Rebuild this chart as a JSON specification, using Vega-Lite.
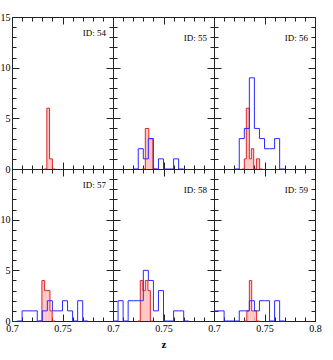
{
"$schema":"https://vega.github.io/schema/vega-lite/v6.json",
"padding":{"left":0,"top":12,"right":5,"bottom":5},
"bounds":"flush",
"spacing":0,
"columns":3,
"data":{"values":[
{"id":54,"s":"r","x0":0.7320,"x1":0.7345,"n":0},{"id":54,"s":"r","x0":0.7345,"x1":0.7372,"n":6},{"id":54,"s":"r","x0":0.7372,"x1":0.7400,"n":1},{"id":54,"s":"r","x0":0.7400,"x1":0.7428,"n":0},
{"id":55,"s":"r","x0":0.7290,"x1":0.7320,"n":0},{"id":55,"s":"r","x0":0.7320,"x1":0.7355,"n":4},{"id":55,"s":"r","x0":0.7355,"x1":0.7395,"n":3},{"id":55,"s":"r","x0":0.7395,"x1":0.7430,"n":0},
{"id":55,"s":"b","x0":0.720,"x1":0.725,"n":0},{"id":55,"s":"b","x0":0.725,"x1":0.730,"n":2},{"id":55,"s":"b","x0":0.730,"x1":0.735,"n":1},{"id":55,"s":"b","x0":0.735,"x1":0.740,"n":3},{"id":55,"s":"b","x0":0.740,"x1":0.745,"n":0},{"id":55,"s":"b","x0":0.745,"x1":0.750,"n":1},{"id":55,"s":"b","x0":0.750,"x1":0.755,"n":0},{"id":55,"s":"b","x0":0.755,"x1":0.760,"n":0},{"id":55,"s":"b","x0":0.760,"x1":0.765,"n":1},{"id":55,"s":"b","x0":0.765,"x1":0.770,"n":0},
{"id":56,"s":"r","x0":0.728,"x1":0.730,"n":0},{"id":56,"s":"r","x0":0.730,"x1":0.732,"n":1},{"id":56,"s":"r","x0":0.732,"x1":0.735,"n":6},{"id":56,"s":"r","x0":0.735,"x1":0.737,"n":1},{"id":56,"s":"r","x0":0.737,"x1":0.7393,"n":2},{"id":56,"s":"r","x0":0.7393,"x1":0.742,"n":0},{"id":56,"s":"r","x0":0.742,"x1":0.7452,"n":1},{"id":56,"s":"r","x0":0.7452,"x1":0.748,"n":0},
{"id":56,"s":"b","x0":0.720,"x1":0.725,"n":0},{"id":56,"s":"b","x0":0.725,"x1":0.730,"n":3},{"id":56,"s":"b","x0":0.730,"x1":0.735,"n":4},{"id":56,"s":"b","x0":0.735,"x1":0.740,"n":9},{"id":56,"s":"b","x0":0.740,"x1":0.745,"n":4},{"id":56,"s":"b","x0":0.745,"x1":0.750,"n":3},{"id":56,"s":"b","x0":0.750,"x1":0.755,"n":2},{"id":56,"s":"b","x0":0.755,"x1":0.760,"n":2},{"id":56,"s":"b","x0":0.760,"x1":0.765,"n":3},{"id":56,"s":"b","x0":0.765,"x1":0.770,"n":0},
{"id":57,"s":"r","x0":0.727,"x1":0.7296,"n":0},{"id":57,"s":"r","x0":0.7296,"x1":0.7323,"n":4},{"id":57,"s":"r","x0":0.7323,"x1":0.735,"n":3},{"id":57,"s":"r","x0":0.735,"x1":0.7376,"n":3},{"id":57,"s":"r","x0":0.7376,"x1":0.7398,"n":1},{"id":57,"s":"r","x0":0.7398,"x1":0.7425,"n":0},
{"id":57,"s":"b","x0":0.705,"x1":0.710,"n":0},{"id":57,"s":"b","x0":0.710,"x1":0.715,"n":1},{"id":57,"s":"b","x0":0.715,"x1":0.720,"n":1},{"id":57,"s":"b","x0":0.720,"x1":0.725,"n":1},{"id":57,"s":"b","x0":0.725,"x1":0.730,"n":0},{"id":57,"s":"b","x0":0.730,"x1":0.735,"n":1},{"id":57,"s":"b","x0":0.735,"x1":0.740,"n":2},{"id":57,"s":"b","x0":0.740,"x1":0.745,"n":1},{"id":57,"s":"b","x0":0.745,"x1":0.750,"n":1},{"id":57,"s":"b","x0":0.750,"x1":0.755,"n":2},{"id":57,"s":"b","x0":0.755,"x1":0.760,"n":1},{"id":57,"s":"b","x0":0.760,"x1":0.765,"n":0},{"id":57,"s":"b","x0":0.765,"x1":0.770,"n":2},{"id":57,"s":"b","x0":0.770,"x1":0.775,"n":0},
{"id":58,"s":"r","x0":0.7245,"x1":0.727,"n":0},{"id":58,"s":"r","x0":0.727,"x1":0.7297,"n":4},{"id":58,"s":"r","x0":0.7297,"x1":0.732,"n":3},{"id":58,"s":"r","x0":0.732,"x1":0.7346,"n":4},{"id":58,"s":"r","x0":0.7346,"x1":0.737,"n":3},{"id":58,"s":"r","x0":0.737,"x1":0.7395,"n":0},
{"id":58,"s":"b","x0":0.700,"x1":0.705,"n":0},{"id":58,"s":"b","x0":0.705,"x1":0.710,"n":2},{"id":58,"s":"b","x0":0.710,"x1":0.715,"n":0},{"id":58,"s":"b","x0":0.715,"x1":0.720,"n":2},{"id":58,"s":"b","x0":0.720,"x1":0.725,"n":2},{"id":58,"s":"b","x0":0.725,"x1":0.730,"n":2},{"id":58,"s":"b","x0":0.730,"x1":0.735,"n":5},{"id":58,"s":"b","x0":0.735,"x1":0.740,"n":4},{"id":58,"s":"b","x0":0.740,"x1":0.745,"n":1},{"id":58,"s":"b","x0":0.745,"x1":0.750,"n":3},{"id":58,"s":"b","x0":0.750,"x1":0.755,"n":0},{"id":58,"s":"b","x0":0.755,"x1":0.760,"n":0},{"id":58,"s":"b","x0":0.760,"x1":0.765,"n":1},{"id":58,"s":"b","x0":0.765,"x1":0.770,"n":1},{"id":58,"s":"b","x0":0.770,"x1":0.775,"n":0},
{"id":59,"s":"r","x0":0.730,"x1":0.7325,"n":0},{"id":59,"s":"r","x0":0.7325,"x1":0.735,"n":1},{"id":59,"s":"r","x0":0.735,"x1":0.7373,"n":4},{"id":59,"s":"r","x0":0.7373,"x1":0.7398,"n":1},{"id":59,"s":"r","x0":0.7398,"x1":0.7422,"n":1},{"id":59,"s":"r","x0":0.7422,"x1":0.745,"n":0},
{"id":59,"s":"b","x0":0.700,"x1":0.705,"n":1},{"id":59,"s":"b","x0":0.705,"x1":0.710,"n":1},{"id":59,"s":"b","x0":0.710,"x1":0.715,"n":0},{"id":59,"s":"b","x0":0.715,"x1":0.720,"n":0},{"id":59,"s":"b","x0":0.720,"x1":0.725,"n":0},{"id":59,"s":"b","x0":0.725,"x1":0.730,"n":1},{"id":59,"s":"b","x0":0.730,"x1":0.735,"n":1},{"id":59,"s":"b","x0":0.735,"x1":0.740,"n":2},{"id":59,"s":"b","x0":0.740,"x1":0.745,"n":1},{"id":59,"s":"b","x0":0.745,"x1":0.750,"n":2},{"id":59,"s":"b","x0":0.750,"x1":0.755,"n":2},{"id":59,"s":"b","x0":0.755,"x1":0.760,"n":0},{"id":59,"s":"b","x0":0.760,"x1":0.765,"n":2},{"id":59,"s":"b","x0":0.765,"x1":0.770,"n":0}
]},
"concat":[
{"width":101,"height":152,
 "title":{"text":"ID: 54","orient":"top","anchor":"end","frame":"group","offset":-26,"dx":-7},
 "transform":[{"filter":"datum.id==54"}],
 "layer":[
  {"transform":[{"filter":"datum.s=='r'"}],"mark":{"type":"rect","color":"#ffc4c4"},
   "encoding":{"x":{"field":"x0","type":"quantitative","scale":{"domain":[0.7,0.8],"nice":false,"zero":false},"axis":{"orient":"bottom","values":[0.7,0.71,0.72,0.73,0.74,0.75,0.76,0.77,0.78,0.79,0.8],"labels":false,"title":null,"tickSize":{"condition":{"test":"abs(datum.value*20-round(datum.value*20))<0.001","value":-7},"value":-4}}},
    "x2":{"field":"x1"},
    "y":{"field":"n","type":"quantitative","scale":{"domain":[0,15],"nice":false},"axis":{"orient":"left","values":[0,1,2,3,4,5,6,7,8,9,10,11,12,13,14,15],"title":null,"labelExpr":"datum.value%5==0 ? format(datum.value,'d') : ''","tickSize":{"condition":{"test":"datum.value%5==0","value":-7},"value":-4}}},
    "y2":{"datum":0}}},
  {"transform":[{"filter":"datum.s=='r'"},{"fold":["x0","x1"]}],"mark":{"type":"line","color":"#e02828","strokeWidth":1},
   "encoding":{"x":{"field":"value","type":"quantitative","scale":{"domain":[0.7,0.8],"nice":false,"zero":false},"axis":{"orient":"top","values":[0.7,0.71,0.72,0.73,0.74,0.75,0.76,0.77,0.78,0.79,0.8],"labels":false,"title":null,"tickSize":{"condition":{"test":"abs(datum.value*20-round(datum.value*20))<0.001","value":-7},"value":-4}}},
    "y":{"field":"n","type":"quantitative","scale":{"domain":[0,15],"nice":false},"axis":{"orient":"right","values":[0,1,2,3,4,5,6,7,8,9,10,11,12,13,14,15],"labels":false,"title":null,"tickSize":{"condition":{"test":"datum.value%5==0","value":-7},"value":-4}}},
    "order":[{"field":"value","type":"quantitative"},{"field":"key","type":"nominal","sort":"descending"}]}},
  {"transform":[{"filter":"datum.s=='b'"},{"fold":["x0","x1"]}],"mark":{"type":"line","color":"#2a2aff","strokeWidth":1},
   "encoding":{"x":{"field":"value","type":"quantitative","scale":{"domain":[0.7,0.8],"nice":false,"zero":false},"axis":null},
    "y":{"field":"n","type":"quantitative","scale":{"domain":[0,15],"nice":false},"axis":null},
    "order":[{"field":"value","type":"quantitative"},{"field":"key","type":"nominal","sort":"descending"}]}}
 ],
 "resolve":{"axis":{"x":"independent","y":"independent"}}},
{"width":101,"height":152,
 "title":{"text":"ID: 55","orient":"top","anchor":"end","frame":"group","offset":-26,"dx":-7},
 "transform":[{"filter":"datum.id==55"}],
 "layer":[
  {"transform":[{"filter":"datum.s=='r'"}],"mark":{"type":"rect","color":"#ffc4c4"},
   "encoding":{"x":{"field":"x0","type":"quantitative","scale":{"domain":[0.7,0.8],"nice":false,"zero":false},"axis":{"orient":"bottom","values":[0.7,0.71,0.72,0.73,0.74,0.75,0.76,0.77,0.78,0.79,0.8],"labels":false,"title":null,"tickSize":{"condition":{"test":"abs(datum.value*20-round(datum.value*20))<0.001","value":-7},"value":-4}}},
    "x2":{"field":"x1"},
    "y":{"field":"n","type":"quantitative","scale":{"domain":[0,15],"nice":false},"axis":{"orient":"left","values":[0,1,2,3,4,5,6,7,8,9,10,11,12,13,14,15],"labels":false,"title":null,"tickSize":{"condition":{"test":"datum.value%5==0","value":-7},"value":-4}}},
    "y2":{"datum":0}}},
  {"transform":[{"filter":"datum.s=='r'"},{"fold":["x0","x1"]}],"mark":{"type":"line","color":"#e02828","strokeWidth":1},
   "encoding":{"x":{"field":"value","type":"quantitative","scale":{"domain":[0.7,0.8],"nice":false,"zero":false},"axis":{"orient":"top","values":[0.7,0.71,0.72,0.73,0.74,0.75,0.76,0.77,0.78,0.79,0.8],"labels":false,"title":null,"tickSize":{"condition":{"test":"abs(datum.value*20-round(datum.value*20))<0.001","value":-7},"value":-4}}},
    "y":{"field":"n","type":"quantitative","scale":{"domain":[0,15],"nice":false},"axis":{"orient":"right","values":[0,1,2,3,4,5,6,7,8,9,10,11,12,13,14,15],"labels":false,"title":null,"tickSize":{"condition":{"test":"datum.value%5==0","value":-7},"value":-4}}},
    "order":[{"field":"value","type":"quantitative"},{"field":"key","type":"nominal","sort":"descending"}]}},
  {"transform":[{"filter":"datum.s=='b'"},{"fold":["x0","x1"]}],"mark":{"type":"line","color":"#2a2aff","strokeWidth":1},
   "encoding":{"x":{"field":"value","type":"quantitative","scale":{"domain":[0.7,0.8],"nice":false,"zero":false},"axis":null},
    "y":{"field":"n","type":"quantitative","scale":{"domain":[0,15],"nice":false},"axis":null},
    "order":[{"field":"value","type":"quantitative"},{"field":"key","type":"nominal","sort":"descending"}]}}
 ],
 "resolve":{"axis":{"x":"independent","y":"independent"}}},
{"width":101,"height":152,
 "title":{"text":"ID: 56","orient":"top","anchor":"end","frame":"group","offset":-26,"dx":-7},
 "transform":[{"filter":"datum.id==56"}],
 "layer":[
  {"transform":[{"filter":"datum.s=='r'"}],"mark":{"type":"rect","color":"#ffc4c4"},
   "encoding":{"x":{"field":"x0","type":"quantitative","scale":{"domain":[0.7,0.8],"nice":false,"zero":false},"axis":{"orient":"bottom","values":[0.7,0.71,0.72,0.73,0.74,0.75,0.76,0.77,0.78,0.79,0.8],"labels":false,"title":null,"tickSize":{"condition":{"test":"abs(datum.value*20-round(datum.value*20))<0.001","value":-7},"value":-4}}},
    "x2":{"field":"x1"},
    "y":{"field":"n","type":"quantitative","scale":{"domain":[0,15],"nice":false},"axis":{"orient":"left","values":[0,1,2,3,4,5,6,7,8,9,10,11,12,13,14,15],"labels":false,"title":null,"tickSize":{"condition":{"test":"datum.value%5==0","value":-7},"value":-4}}},
    "y2":{"datum":0}}},
  {"transform":[{"filter":"datum.s=='r'"},{"fold":["x0","x1"]}],"mark":{"type":"line","color":"#e02828","strokeWidth":1},
   "encoding":{"x":{"field":"value","type":"quantitative","scale":{"domain":[0.7,0.8],"nice":false,"zero":false},"axis":{"orient":"top","values":[0.7,0.71,0.72,0.73,0.74,0.75,0.76,0.77,0.78,0.79,0.8],"labels":false,"title":null,"tickSize":{"condition":{"test":"abs(datum.value*20-round(datum.value*20))<0.001","value":-7},"value":-4}}},
    "y":{"field":"n","type":"quantitative","scale":{"domain":[0,15],"nice":false},"axis":{"orient":"right","values":[0,1,2,3,4,5,6,7,8,9,10,11,12,13,14,15],"labels":false,"title":null,"tickSize":{"condition":{"test":"datum.value%5==0","value":-7},"value":-4}}},
    "order":[{"field":"value","type":"quantitative"},{"field":"key","type":"nominal","sort":"descending"}]}},
  {"transform":[{"filter":"datum.s=='b'"},{"fold":["x0","x1"]}],"mark":{"type":"line","color":"#2a2aff","strokeWidth":1},
   "encoding":{"x":{"field":"value","type":"quantitative","scale":{"domain":[0.7,0.8],"nice":false,"zero":false},"axis":null},
    "y":{"field":"n","type":"quantitative","scale":{"domain":[0,15],"nice":false},"axis":null},
    "order":[{"field":"value","type":"quantitative"},{"field":"key","type":"nominal","sort":"descending"}]}}
 ],
 "resolve":{"axis":{"x":"independent","y":"independent"}}},
{"width":101,"height":152,
 "title":{"text":"ID: 57","orient":"top","anchor":"end","frame":"group","offset":-26,"dx":-7},
 "transform":[{"filter":"datum.id==57"}],
 "layer":[
  {"transform":[{"filter":"datum.s=='r'"}],"mark":{"type":"rect","color":"#ffc4c4"},
   "encoding":{"x":{"field":"x0","type":"quantitative","scale":{"domain":[0.7,0.8],"nice":false,"zero":false},"axis":{"orient":"bottom","values":[0.7,0.71,0.72,0.73,0.74,0.75,0.76,0.77,0.78,0.79,0.8],"title":null,"labelExpr":"abs(datum.value*20-round(datum.value*20))<0.001 && datum.value<0.79 ? format(datum.value,'.2~f') : ''","tickSize":{"condition":{"test":"abs(datum.value*20-round(datum.value*20))<0.001","value":-7},"value":-4}}},
    "x2":{"field":"x1"},
    "y":{"field":"n","type":"quantitative","scale":{"domain":[0,15],"nice":false},"axis":{"orient":"left","values":[0,1,2,3,4,5,6,7,8,9,10,11,12,13,14,15],"title":null,"labelExpr":"datum.value%5==0 && datum.value<15 ? format(datum.value,'d') : ''","tickSize":{"condition":{"test":"datum.value%5==0","value":-7},"value":-4}}},
    "y2":{"datum":0}}},
  {"transform":[{"filter":"datum.s=='r'"},{"fold":["x0","x1"]}],"mark":{"type":"line","color":"#e02828","strokeWidth":1},
   "encoding":{"x":{"field":"value","type":"quantitative","scale":{"domain":[0.7,0.8],"nice":false,"zero":false},"axis":{"orient":"top","values":[0.7,0.71,0.72,0.73,0.74,0.75,0.76,0.77,0.78,0.79,0.8],"labels":false,"title":null,"tickSize":{"condition":{"test":"abs(datum.value*20-round(datum.value*20))<0.001","value":-7},"value":-4}}},
    "y":{"field":"n","type":"quantitative","scale":{"domain":[0,15],"nice":false},"axis":{"orient":"right","values":[0,1,2,3,4,5,6,7,8,9,10,11,12,13,14,15],"labels":false,"title":null,"tickSize":{"condition":{"test":"datum.value%5==0","value":-7},"value":-4}}},
    "order":[{"field":"value","type":"quantitative"},{"field":"key","type":"nominal","sort":"descending"}]}},
  {"transform":[{"filter":"datum.s=='b'"},{"fold":["x0","x1"]}],"mark":{"type":"line","color":"#2a2aff","strokeWidth":1},
   "encoding":{"x":{"field":"value","type":"quantitative","scale":{"domain":[0.7,0.8],"nice":false,"zero":false},"axis":null},
    "y":{"field":"n","type":"quantitative","scale":{"domain":[0,15],"nice":false},"axis":null},
    "order":[{"field":"value","type":"quantitative"},{"field":"key","type":"nominal","sort":"descending"}]}}
 ],
 "resolve":{"axis":{"x":"independent","y":"independent"}}},
{"width":101,"height":152,
 "title":{"text":"ID: 58","orient":"top","anchor":"end","frame":"group","offset":-26,"dx":-7},
 "transform":[{"filter":"datum.id==58"}],
 "layer":[
  {"transform":[{"filter":"datum.s=='r'"}],"mark":{"type":"rect","color":"#ffc4c4"},
   "encoding":{"x":{"field":"x0","type":"quantitative","scale":{"domain":[0.7,0.8],"nice":false,"zero":false},"axis":{"orient":"bottom","values":[0.7,0.71,0.72,0.73,0.74,0.75,0.76,0.77,0.78,0.79,0.8],"title":"z","labelExpr":"abs(datum.value*20-round(datum.value*20))<0.001 && datum.value<0.79 ? format(datum.value,'.2~f') : ''","tickSize":{"condition":{"test":"abs(datum.value*20-round(datum.value*20))<0.001","value":-7},"value":-4}}},
    "x2":{"field":"x1"},
    "y":{"field":"n","type":"quantitative","scale":{"domain":[0,15],"nice":false},"axis":{"orient":"left","values":[0,1,2,3,4,5,6,7,8,9,10,11,12,13,14,15],"labels":false,"title":null,"tickSize":{"condition":{"test":"datum.value%5==0","value":-7},"value":-4}}},
    "y2":{"datum":0}}},
  {"transform":[{"filter":"datum.s=='r'"},{"fold":["x0","x1"]}],"mark":{"type":"line","color":"#e02828","strokeWidth":1},
   "encoding":{"x":{"field":"value","type":"quantitative","scale":{"domain":[0.7,0.8],"nice":false,"zero":false},"axis":{"orient":"top","values":[0.7,0.71,0.72,0.73,0.74,0.75,0.76,0.77,0.78,0.79,0.8],"labels":false,"title":null,"tickSize":{"condition":{"test":"abs(datum.value*20-round(datum.value*20))<0.001","value":-7},"value":-4}}},
    "y":{"field":"n","type":"quantitative","scale":{"domain":[0,15],"nice":false},"axis":{"orient":"right","values":[0,1,2,3,4,5,6,7,8,9,10,11,12,13,14,15],"labels":false,"title":null,"tickSize":{"condition":{"test":"datum.value%5==0","value":-7},"value":-4}}},
    "order":[{"field":"value","type":"quantitative"},{"field":"key","type":"nominal","sort":"descending"}]}},
  {"transform":[{"filter":"datum.s=='b'"},{"fold":["x0","x1"]}],"mark":{"type":"line","color":"#2a2aff","strokeWidth":1},
   "encoding":{"x":{"field":"value","type":"quantitative","scale":{"domain":[0.7,0.8],"nice":false,"zero":false},"axis":null},
    "y":{"field":"n","type":"quantitative","scale":{"domain":[0,15],"nice":false},"axis":null},
    "order":[{"field":"value","type":"quantitative"},{"field":"key","type":"nominal","sort":"descending"}]}}
 ],
 "resolve":{"axis":{"x":"independent","y":"independent"}}},
{"width":101,"height":152,
 "title":{"text":"ID: 59","orient":"top","anchor":"end","frame":"group","offset":-26,"dx":-7},
 "transform":[{"filter":"datum.id==59"}],
 "layer":[
  {"transform":[{"filter":"datum.s=='r'"}],"mark":{"type":"rect","color":"#ffc4c4"},
   "encoding":{"x":{"field":"x0","type":"quantitative","scale":{"domain":[0.7,0.8],"nice":false,"zero":false},"axis":{"orient":"bottom","values":[0.7,0.71,0.72,0.73,0.74,0.75,0.76,0.77,0.78,0.79,0.8],"title":null,"labelExpr":"abs(datum.value*20-round(datum.value*20))<0.001 ? format(datum.value,'.2~f') : ''","tickSize":{"condition":{"test":"abs(datum.value*20-round(datum.value*20))<0.001","value":-7},"value":-4}}},
    "x2":{"field":"x1"},
    "y":{"field":"n","type":"quantitative","scale":{"domain":[0,15],"nice":false},"axis":{"orient":"left","values":[0,1,2,3,4,5,6,7,8,9,10,11,12,13,14,15],"labels":false,"title":null,"tickSize":{"condition":{"test":"datum.value%5==0","value":-7},"value":-4}}},
    "y2":{"datum":0}}},
  {"transform":[{"filter":"datum.s=='r'"},{"fold":["x0","x1"]}],"mark":{"type":"line","color":"#e02828","strokeWidth":1},
   "encoding":{"x":{"field":"value","type":"quantitative","scale":{"domain":[0.7,0.8],"nice":false,"zero":false},"axis":{"orient":"top","values":[0.7,0.71,0.72,0.73,0.74,0.75,0.76,0.77,0.78,0.79,0.8],"labels":false,"title":null,"tickSize":{"condition":{"test":"abs(datum.value*20-round(datum.value*20))<0.001","value":-7},"value":-4}}},
    "y":{"field":"n","type":"quantitative","scale":{"domain":[0,15],"nice":false},"axis":{"orient":"right","values":[0,1,2,3,4,5,6,7,8,9,10,11,12,13,14,15],"labels":false,"title":null,"tickSize":{"condition":{"test":"datum.value%5==0","value":-7},"value":-4}}},
    "order":[{"field":"value","type":"quantitative"},{"field":"key","type":"nominal","sort":"descending"}]}},
  {"transform":[{"filter":"datum.s=='b'"},{"fold":["x0","x1"]}],"mark":{"type":"line","color":"#2a2aff","strokeWidth":1},
   "encoding":{"x":{"field":"value","type":"quantitative","scale":{"domain":[0.7,0.8],"nice":false,"zero":false},"axis":null},
    "y":{"field":"n","type":"quantitative","scale":{"domain":[0,15],"nice":false},"axis":null},
    "order":[{"field":"value","type":"quantitative"},{"field":"key","type":"nominal","sort":"descending"}]}}
 ],
 "resolve":{"axis":{"x":"independent","y":"independent"}}}
],
"config":{
 "view":{"stroke":null},
 "font":"Liberation Serif",
 "title":{"font":"Liberation Serif","fontSize":9,"fontWeight":"normal","color":"#000"},
 "axis":{"domainColor":"#222","domainWidth":1,"tickColor":"#222","tickWidth":1,"grid":false,"zindex":1,
  "labelFont":"Liberation Serif","labelFontSize":10,"labelColor":"#000","labelPadding":9,"labelFlush":false,"labelOverlap":false,
  "titleFont":"Liberation Serif","titleFontSize":11,"titleFontWeight":"bold","titleColor":"#000","titlePadding":2}
}
}
